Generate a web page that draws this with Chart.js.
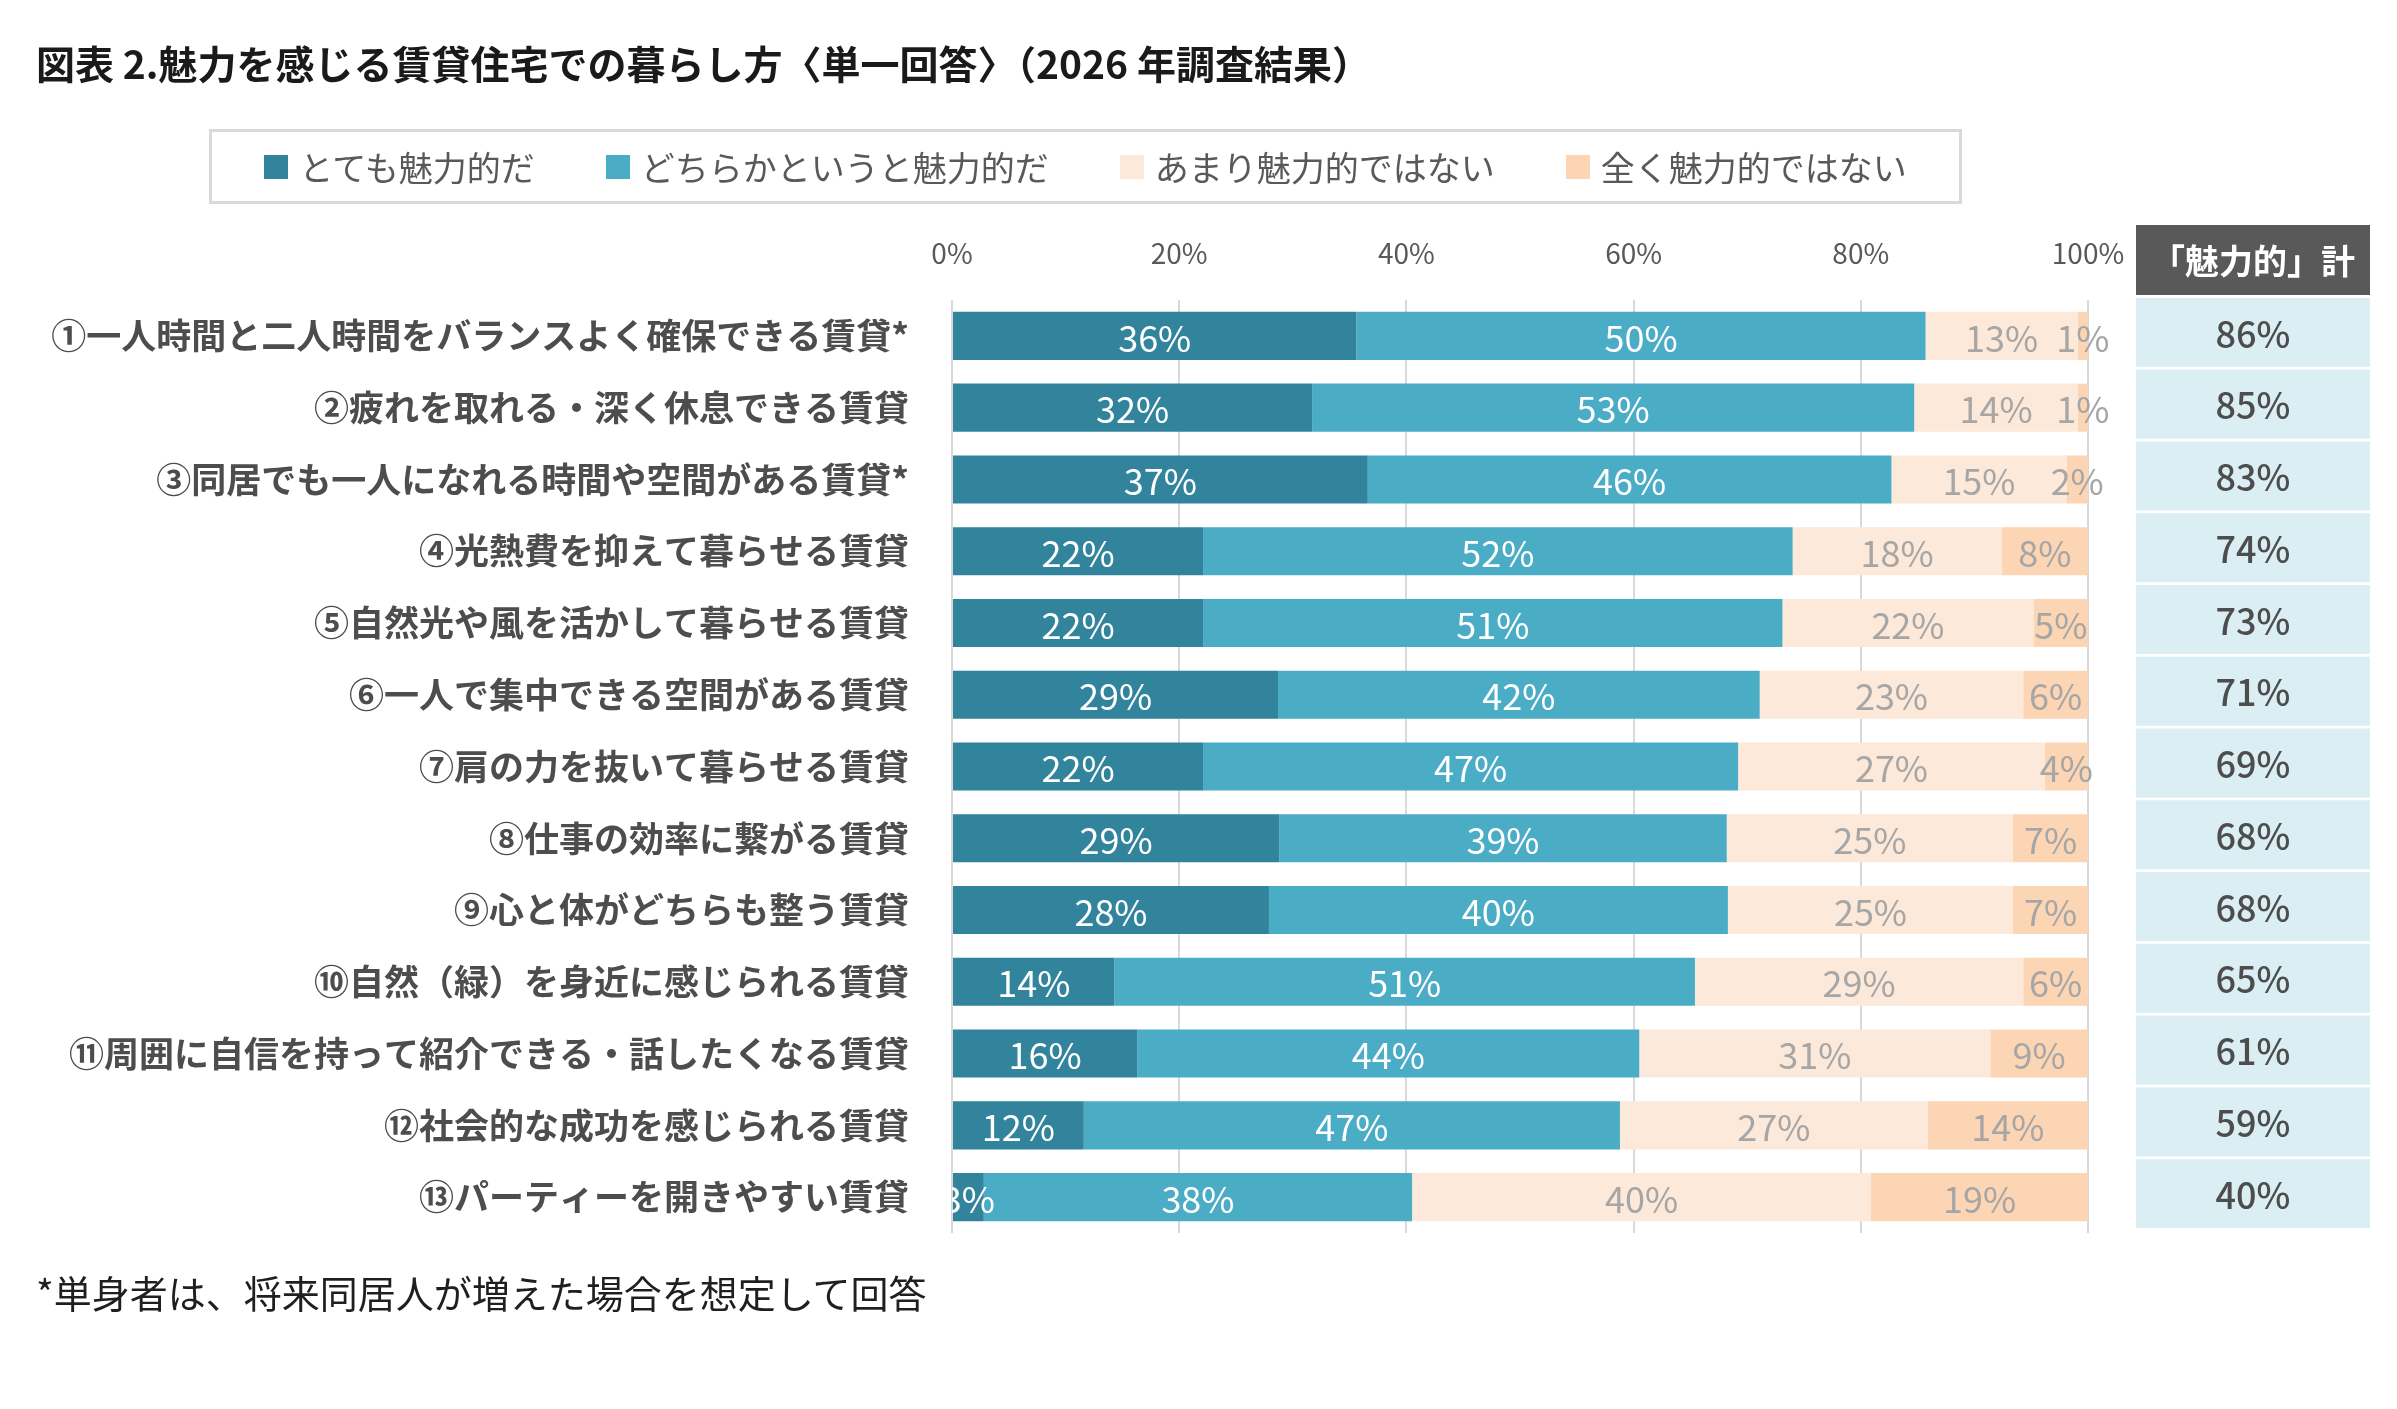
<!DOCTYPE html>
<html lang="ja">
<head>
<meta charset="utf-8">
<title>魅力を感じる賃貸住宅での暮らし方</title>
<script src="https://cdn.jsdelivr.net/npm/chart.js@4.4.1/dist/chart.umd.min.js"></script>
<style>
    body {
        margin: 0;
        background: #ffffff;
        font-family: "Noto Sans CJK JP", "Noto Sans", sans-serif;
    }

    #page {
        position: relative;
        width: 2397px;
        height: 1409px;
        overflow: hidden;
    }

    #chart {
        position: absolute;
        left: 0;
        top: 0;
    }

    .titulo {
        position: absolute;
        left: 36px;
        top: 42px;
        font-size: 39px;
        line-height: 41px;
        font-weight: bold;
        color: #1a1a1a;
        white-space: nowrap;
    }

    .legenda {
        position: absolute;
        left: 209px;
        top: 129px;
        width: 1753px;
        height: 75px;
        box-sizing: border-box;
        border: 3px solid #d9d9d9;
        display: flex;
        align-items: center;
        justify-content: center;
        gap: 71px;
    }

    .legenda .item {
        display: flex;
        align-items: center;
        font-size: 34px;
        color: #595959;
        white-space: nowrap;
    }

    .legenda .quadrado {
        width: 24px;
        height: 24px;
        margin-right: 11px;
    }

    .nota {
        position: absolute;
        left: 36px;
        top: 1272px;
        font-size: 38px;
        line-height: 40px;
        color: #1f1f1f;
        white-space: nowrap;
    }
</style>
</head>
<body>

<div id="page">
    <canvas id="chart" width="2397" height="1409"></canvas>
    <div class="titulo">図表 2.魅力を感じる賃貸住宅での暮らし方〈単一回答〉（2026 年調査結果）</div>
    <div class="legenda" id="legenda"></div>
    <div class="nota">*単身者は、将来同居人が増えた場合を想定して回答</div>
</div>

<script>

// ======================================
// DADOS
// ======================================

const categorias = [
    "①一人時間と二人時間をバランスよく確保できる賃貸*",
    "②疲れを取れる・深く休息できる賃貸",
    "③同居でも一人になれる時間や空間がある賃貸*",
    "④光熱費を抑えて暮らせる賃貸",
    "⑤自然光や風を活かして暮らせる賃貸",
    "⑥一人で集中できる空間がある賃貸",
    "⑦肩の力を抜いて暮らせる賃貸",
    "⑧仕事の効率に繋がる賃貸",
    "⑨心と体がどちらも整う賃貸",
    "⑩自然（緑）を身近に感じられる賃貸",
    "⑪周囲に自信を持って紹介できる・話したくなる賃貸",
    "⑫社会的な成功を感じられる賃貸",
    "⑬パーティーを開きやすい賃貸"
];

const totemoMiryoku = [35.6, 31.7, 36.6, 22.1, 22.1, 28.7, 22.1, 28.8, 27.9, 14.3, 16.3, 11.6, 2.8];
const dochiraka = [50.1, 53.0, 46.1, 51.9, 51.0, 42.4, 47.1, 39.4, 40.4, 51.1, 44.2, 47.2, 37.7];
const amari = [13.4, 14.4, 15.4, 18.4, 22.1, 23.2, 27.0, 25.2, 25.1, 28.9, 30.9, 27.1, 40.4];
const mattaku = [0.9, 0.9, 1.9, 7.6, 4.8, 5.7, 3.8, 6.6, 6.6, 5.7, 8.6, 14.1, 19.1];

const totais = [86, 85, 83, 74, 73, 71, 69, 68, 68, 65, 61, 59, 40];
const tituloTotal = "「魅力的」計";

const nomesSeries = ["とても魅力的だ", "どちらかというと魅力的だ", "あまり魅力的ではない", "全く魅力的ではない"];
const coresSeries = ["#31849b", "#4bacc6", "#fde9d9", "#fcd5b4"];
const coresRotulos = ["#ffffff", "#ffffff", "#a6a6a6", "#a6a6a6"];

const ticksX = [0, 20, 40, 60, 80, 100];

const fonte = "'Noto Sans CJK JP', 'Noto Sans', sans-serif";


// ======================================
// LEGENDA
// ======================================

const legenda = document.getElementById("legenda");

nomesSeries.forEach((nome, i) => {

    const item = document.createElement("div");
    item.className = "item";

    const quadrado = document.createElement("span");
    quadrado.className = "quadrado";
    quadrado.style.background = coresSeries[i];

    const texto = document.createElement("span");
    texto.textContent = nome;

    item.appendChild(quadrado);
    item.appendChild(texto);
    legenda.appendChild(item);

});


// ======================================
// RÓTULOS E COLUNA DE TOTAL
// ======================================

const rotulosPlugin = {

    id: "rotulos",

    afterDatasetsDraw(chart) {

        const ctx = chart.ctx;
        const area = chart.chartArea;

        ctx.save();
        ctx.beginPath();
        ctx.rect(area.left, 0, chart.width - area.left, chart.height);
        ctx.clip();

        ctx.font = "36px " + fonte;
        ctx.textAlign = "center";
        ctx.textBaseline = "middle";

        chart.data.datasets.forEach((ds, i) => {

            chart.getDatasetMeta(i).data.forEach((barra, j) => {

                const cx = (barra.x + barra.base) / 2;

                ctx.fillStyle = coresRotulos[i];
                ctx.fillText(Math.round(ds.data[j]) + "%", cx, barra.y + 2);

            });

        });

        ctx.restore();

        // coluna "魅力的" 計
        const escalaY = chart.scales.y;
        const colX = 2136;
        const colW = 234;

        ctx.save();

        ctx.fillStyle = "#595959";
        ctx.fillRect(colX, 225, colW, 70);

        ctx.fillStyle = "#ffffff";
        ctx.font = "bold 34px " + fonte;
        ctx.textAlign = "center";
        ctx.textBaseline = "middle";
        ctx.fillText(tituloTotal, colX + colW / 2, 261);

        totais.forEach((total, j) => {

            const yc = escalaY.getPixelForValue(j);

            ctx.fillStyle = "#daeef3";
            ctx.fillRect(colX, yc - 38, colW, 69);

            ctx.fillStyle = "#4d4d4d";
            ctx.font = "500 36px " + fonte;
            ctx.fillText(total + "%", colX + colW / 2, yc - 2);

        });

        ctx.restore();

    }

};


// ======================================
// GRÁFICO
// ======================================

const canvas = document.getElementById("chart");

new Chart(canvas, {

    type: "bar",

    data: {

        labels: categorias,

        datasets: [totemoMiryoku, dochiraka, amari, mattaku].map((valores, i) => ({

            label: nomesSeries[i],
            data: valores,
            backgroundColor: coresSeries[i],
            borderWidth: 0,
            barPercentage: 0.67,
            categoryPercentage: 1

        }))

    },

    plugins: [rotulosPlugin],

    options: {

        indexAxis: "y",
        responsive: false,
        animation: false,
        devicePixelRatio: 1,

        layout: {
            padding: { left: 0, top: 0, right: 309, bottom: 176 }
        },

        plugins: {
            legend: { display: false },
            title: { display: false },
            tooltip: { enabled: false }
        },

        scales: {

            x: {
                position: "top",
                stacked: true,
                min: 0,
                max: 100,
                afterBuildTicks: escala => {
                    escala.ticks = ticksX.map(v => ({ value: v }));
                },
                afterFit: escala => {
                    escala.height = 300;
                },
                ticks: {
                    padding: 30,
                    color: "#595959",
                    font: { size: 28, family: fonte },
                    callback: v => v + "%"
                },
                grid: {
                    color: "#d9d9d9",
                    lineWidth: 2,
                    drawTicks: false
                },
                border: { display: false }
            },

            y: {
                stacked: true,
                afterFit: escala => {
                    escala.width = 952;
                },
                ticks: {
                    padding: 43,
                    autoSkip: false,
                    color: "#4d4d4d",
                    font: { size: 35, weight: "bold", family: fonte }
                },
                grid: {
                    display: false,
                    drawTicks: false
                },
                border: { display: false }
            }

        }

    }

});

</script>
</body>
</html>
